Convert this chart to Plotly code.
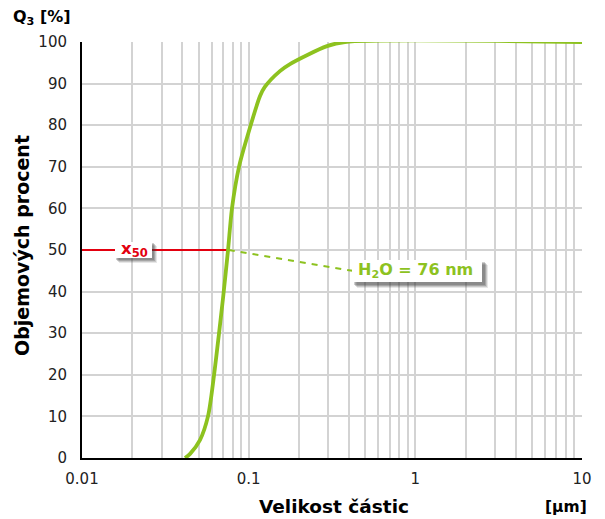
import plotly.graph_objects as go

# Data
size_um = [0.0415, 0.0445, 0.051, 0.057, 0.062, 0.0664, 0.0702, 0.0752, 0.0794,
           0.0875, 0.0977, 0.117, 0.125, 0.154, 0.177, 0.295, 0.378, 10]
q3 = [0, 1, 4.3, 10, 20, 30, 38.5, 50, 60, 70, 77, 87, 89.2, 93, 94.7, 99, 100, 100]

x50_line_x = [0.01, 0.076]
x50_line_y = [50, 50]
leader_x = [0.076, 0.42]
leader_y = [50, 45]

xtick_vals = [m * 10 ** e for e in (-2, -1, 0) for m in range(1, 10)] + [10]
xtick_text = ["0.01" if v == 0.01 else "0.1" if v == 0.1 else "1" if v == 1 else "10" if v == 10 else ""
              for v in xtick_vals]

GREEN = "#8DC21F"
RED = "#E3000F"
FONT = "DejaVu Sans"

fig = go.Figure()
fig.add_trace(go.Scatter(x=x50_line_x, y=x50_line_y, mode="lines",
                         line=dict(color=RED, width=2), hoverinfo="skip"))
fig.add_trace(go.Scatter(x=leader_x, y=leader_y, mode="lines",
                         line=dict(color=GREEN, width=2, dash="6px,6px"), hoverinfo="skip"))
fig.add_trace(go.Scatter(x=size_um, y=q3, mode="lines",
                         line=dict(color=GREEN, width=3.8, shape="spline", smoothing=0.8)))

OFF = 8  # page body margin offset
W, H = 605, 519
PL, PT, PW, PH = 82, 42, 500, 416  # plot area in page pixels
L, T = PL - OFF, PT - OFF
R = W - L - PW
B = H - T - PH

def px(x):
    return (x - PL) / PW

def py(y):
    return (PT + PH - y) / PH

shapes = []
def box(x0, y0, x1, y1, off=3):
    # soft shadow built from a few translucent layers
    for k, a in ((off + 2, 0.12), (off + 1, 0.18), (off, 0.25), (off - 1, 0.25)):
        shapes.append(dict(type="rect", xref="paper", yref="paper",
                           x0=px(x0 + k - 1), x1=px(x1 + k), y0=py(y1 + k), y1=py(y0 + k - 1),
                           fillcolor=f"rgba(60,60,60,{a})", line=dict(width=0)))
    shapes.append(dict(type="rect", xref="paper", yref="paper",
                       x0=px(x0), x1=px(x1), y0=py(y1), y1=py(y0),
                       fillcolor="white", line=dict(width=0)))

box(115, 242, 152, 258, off=3)
box(352, 260, 482, 282, off=4)

def ann(text, x, y, size, color, **kw):
    d = dict(text=text, x=px(x), y=py(y), xref="paper", yref="paper",
             xanchor="center", yanchor="middle", showarrow=False,
             font=dict(family=FONT, size=size, color=color))
    d.update(kw)
    return d

annotations = [
    ann("<b>x<sub>50</sub></b>", 134, 249, 16.5, RED),
    ann("<b>H<sub>2</sub>O = 76 nm</b>", 415, 270, 16, GREEN),
    ann("<b>Objemových procent</b>", 22, 246, 19, "black", textangle=-90),
    ann("<b>Velikost částic</b>", 334, 507, 18.5, "black"),
    ann("<b>[µm]</b>", 566, 507, 15.5, "black"),
    ann("<b>Q<sub>3</sub> [%]</b>", 42, 17, 16, "black"),
]

fig.update_layout(
    width=W, height=H, margin=dict(l=L, r=R, t=T, b=B, autoexpand=False),
    paper_bgcolor="white", plot_bgcolor="white", showlegend=False,
    font=dict(family=FONT, size=14, color="#222"),
    shapes=shapes, annotations=annotations,
    xaxis=dict(type="log", range=[-2, 1], tickvals=xtick_vals, ticktext=xtick_text,
               showgrid=True, gridcolor="#D3D3D3", gridwidth=1.5, ticks="",
               showline=True, linecolor="black", linewidth=2, zeroline=False,
               tickfont=dict(size=15), ticklabelstandoff=6),
    yaxis=dict(range=[0, 100], dtick=10, showgrid=True, gridcolor="#D3D3D3", gridwidth=1.5,
               ticks="", showline=True, linecolor="black", linewidth=2, zeroline=False,
               tickfont=dict(size=15), ticklabelstandoff=10),
)

fig.write_html("out.html")
